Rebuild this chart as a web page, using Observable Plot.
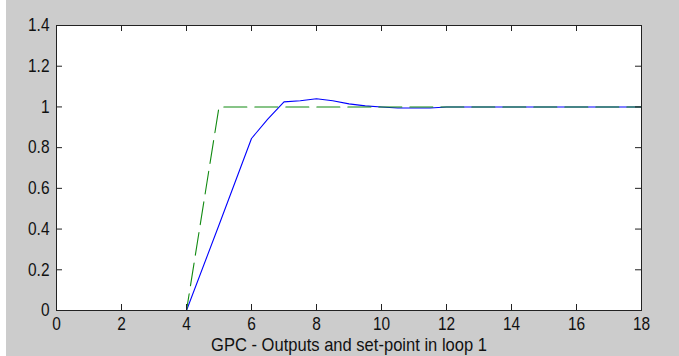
<!DOCTYPE html>
<html><head><meta charset="utf-8">
<script src="https://cdn.jsdelivr.net/npm/d3@7"></script>
<script src="https://cdn.jsdelivr.net/npm/@observablehq/plot@0.6"></script>
<style>
html,body{margin:0;padding:0;}
body{width:679px;height:356px;overflow:hidden;background:linear-gradient(to right,#ffffff 0,#ffffff 6px,#cccccc 6px);}
svg{display:block;}
</style></head><body><div id="chart"></div>
<script>
// Output of loop 1 (blue, solid)
const timeOut = [0, 4, 5, 6, 6.5, 7, 7.5, 8, 8.5, 9, 9.5, 10, 10.5, 11, 11.5, 12, 18];
const output  = [0, 0, 0.42, 0.845, 0.94, 1.025, 1.03, 1.04, 1.03, 1.015, 1.005, 1.0, 0.995, 0.995, 0.995, 1.0, 1.0];
// Set-point of loop 1 (green, dashed)
const timeSp   = [0, 4, 5, 18];
const setpoint = [0, 0, 1, 1];
// Axes
const xTicks = [0, 2, 4, 6, 8, 10, 12, 14, 16, 18];
const yTicks = [0, 0.2, 0.4, 0.6, 0.8, 1, 1.2, 1.4];
const yTickLabels = ["0", "0.2", "0.4", "0.6", "0.8", "1", "1.2", "1.4"];
const xLabel = "GPC - Outputs and set-point in loop 1";

const outData = timeOut.map((t, i) => ({t, v: output[i]}));
const spData = timeSp.map((t, i) => ({t, v: setpoint[i]}));

const W = 679, H = 356, mL = 56, mR = 38, mT = 25, mB = 46;
const innerH = H - mT - mB, innerW = W - mL - mR, tk = 6;

const chart = Plot.plot({
  width: W, height: H,
  marginLeft: mL, marginRight: mR, marginTop: mT, marginBottom: mB,
  style: {background: "transparent", fontFamily: "'Liberation Sans Narrow', 'Liberation Sans', Arial, sans-serif", fontSize: "18px", color: "#111"},
  x: {domain: [0, 18]},
  y: {domain: [0, 1.4]},
  marks: [
    Plot.frame({fill: "white", stroke: null}),
    Plot.line(outData, {x: "t", y: "v", stroke: "#0000ff", strokeWidth: 1.1}),
    Plot.line(spData, {x: "t", y: "v", stroke: "#118a11", strokeWidth: 1.1, strokeDasharray: "23,8"}),
    // inward ticks
    Plot.ruleX(xTicks, {x: d => d, insetTop: innerH - tk, stroke: "#222"}),
    Plot.ruleX(xTicks, {x: d => d, insetBottom: innerH - tk, stroke: "#222"}),
    Plot.ruleY(yTicks, {y: d => d, insetRight: innerW - tk, stroke: "#222"}),
    Plot.ruleY(yTicks, {y: d => d, insetLeft: innerW - tk, stroke: "#222"}),
    Plot.frame({stroke: "#222"}),
    Plot.axisX(xTicks, {tickSize: 0, tickPadding: 7, fontSize: 18, label: xLabel, labelAnchor: "center", labelOffset: 40, labelArrow: "none", fill: "#111"}),
    Plot.axisY(yTicks, {tickSize: 0, tickPadding: 7, fontSize: 18, label: null, tickFormat: (d) => yTickLabels[yTicks.indexOf(d)], fill: "#111"})
  ]
});
document.getElementById("chart").appendChild(chart);
// condense text horizontally to mimic the narrow bitmap font of the original
chart.querySelectorAll("text").forEach(t => {
  const isLabel = t.textContent === xLabel;
  const s = isLabel ? 0.92 : 0.86;
  const tr = t.getAttribute("transform") || "";
  t.setAttribute("transform", (tr + ` scale(${s},1)`).trim());
});
</script></body></html>
